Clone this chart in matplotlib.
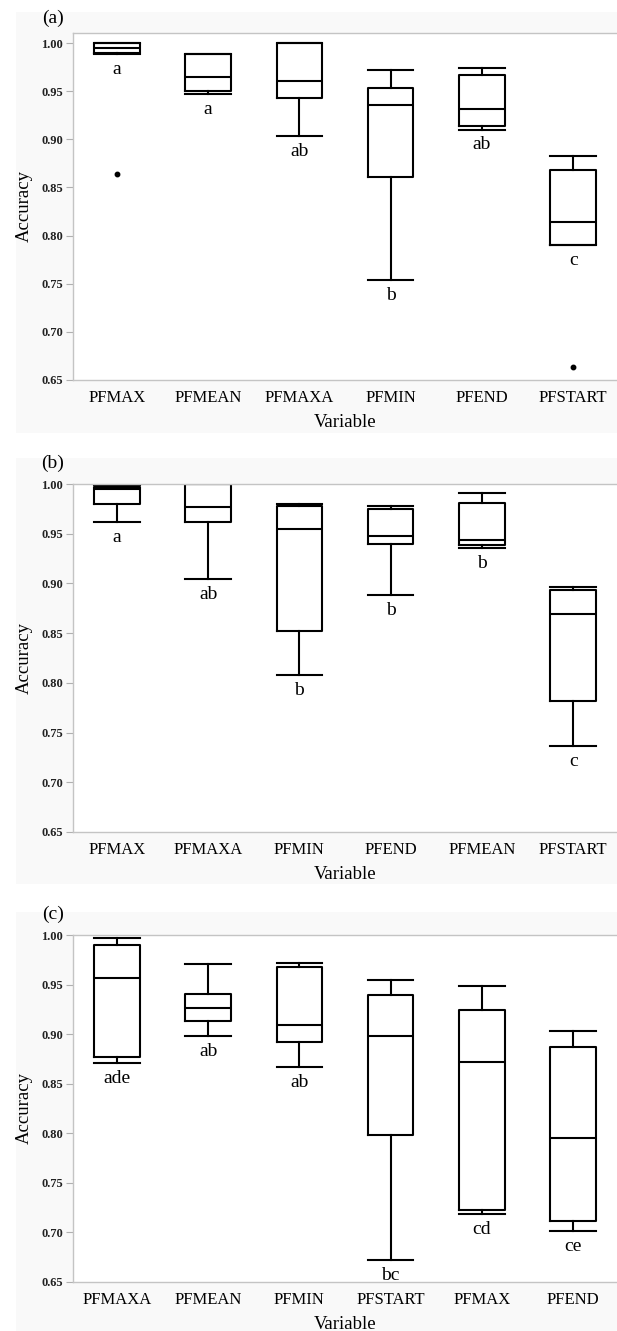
import matplotlib
matplotlib.use("Agg")
import matplotlib.pyplot as plt
from matplotlib.patches import Rectangle

plt.rcParams['font.family'] = ['Liberation Serif', 'DejaVu Serif']

# panel (a)
a_labels = ['PFMAX', 'PFMEAN', 'PFMAXA', 'PFMIN', 'PFEND', 'PFSTART']
a_whishi = [1.000, 0.9886, 1.000, 0.9719, 0.974, 0.8822]
a_q3 = [0.9995, 0.9886, 1.000, 0.9532, 0.967, 0.8676]
a_med = [0.9950, 0.9647, 0.9608, 0.9359, 0.9317, 0.8143]
a_q1 = [0.9895, 0.9498, 0.9428, 0.8604, 0.9134, 0.7904]
a_whislo = [0.9888, 0.947, 0.9037, 0.7536, 0.910, 0.7904]
a_fliers = [[0.864], [], [], [], [], [0.663]]
a_letters = ['a', 'a', 'ab', 'b', 'ab', 'c']

# panel (b)
b_labels = ['PFMAX', 'PFMAXA', 'PFMIN', 'PFEND', 'PFMEAN', 'PFSTART']
b_whishi = [0.999, 1.000, 0.980, 0.9776, 0.9906, 0.8965]
b_q3 = [0.9973, 1.000, 0.978, 0.9745, 0.9806, 0.8935]
b_med = [0.995, 0.9772, 0.9545, 0.9478, 0.9437, 0.8697]
b_q1 = [0.9802, 0.9622, 0.8523, 0.940, 0.9387, 0.7813]
b_whislo = [0.9615, 0.9046, 0.8074, 0.8885, 0.9354, 0.7361]
b_fliers = [[], [], [], [], [], []]
b_letters = ['a', 'ab', 'b', 'b', 'b', 'c']

# panel (c)
c_labels = ['PFMAXA', 'PFMEAN', 'PFMIN', 'PFSTART', 'PFMAX', 'PFEND']
c_whishi = [0.9973, 0.9704, 0.9717, 0.9546, 0.9489, 0.9027]
c_q3 = [0.9896, 0.9408, 0.9677, 0.9394, 0.924, 0.8866]
c_med = [0.9562, 0.926, 0.9095, 0.8977, 0.8714, 0.7954]
c_q1 = [0.8765, 0.9128, 0.8923, 0.7987, 0.7227, 0.7119]
c_whislo = [0.8704, 0.898, 0.8667, 0.6722, 0.7186, 0.7015]
c_fliers = [[], [], [], [], [], []]
c_letters = ['ade', 'ab', 'ab', 'bc', 'cd', 'ce']

yticks = [0.65, 0.70, 0.75, 0.80, 0.85, 0.90, 0.95, 1.00]

W, H = 617, 1331
fig = plt.figure(figsize=(W / 100, H / 100), dpi=100)


def px_axes(left, top, right, bottom):
    return [left / W, 1 - bottom / H, (right - left) / W, (bottom - top) / H]


def draw_panel(rect, bg, tag, tag_y, labels, whishi, q3, med, q1, whislo, fliers, letters, ytop):
    # faint grey backing like the original export
    fig.patches.append(Rectangle((bg[0] / W, 1 - bg[3] / H), (bg[2] - bg[0]) / W, (bg[3] - bg[1]) / H,
                                 transform=fig.transFigure, facecolor='#f9f9f9', edgecolor='none', zorder=-10))
    ax = fig.add_axes(px_axes(*rect))
    stats = []
    for i in range(len(labels)):
        stats.append(dict(whishi=whishi[i], q3=q3[i], med=med[i], q1=q1[i],
                          whislo=whislo[i], fliers=fliers[i], label=labels[i]))
    lw = 1.5
    ax.bxp(stats, positions=range(len(labels)), widths=0.5, capwidths=0.5,
           showfliers=True,
           boxprops=dict(color='black', linewidth=lw),
           whiskerprops=dict(color='black', linewidth=lw),
           capprops=dict(color='black', linewidth=lw),
           medianprops=dict(color='black', linewidth=lw),
           flierprops=dict(marker='o', markerfacecolor='black', markeredgecolor='black', markersize=3.2))
    for i, let in enumerate(letters):
        ax.annotate(let, (i, whislo[i]), xytext=(0, -11), textcoords='offset points',
                    ha='center', va='center', fontsize=14)
    ax.set_xlim(-0.48, len(labels) - 0.52)
    ax.set_ylim(0.65, ytop)
    ax.set_yticks(yticks)
    ax.set_yticklabels([f'{t:.2f}' for t in yticks], fontsize=9, fontweight='bold', color='#222222')
    ax.set_xticks(range(len(labels)))
    ax.set_xticklabels(labels, fontsize=12)
    ax.tick_params(axis='x', length=0, pad=7)
    ax.tick_params(axis='y', length=5, width=0.8, color='#b0b0b0', pad=2)
    for s in ['left', 'bottom', 'top']:
        ax.spines[s].set_color('#c4c4c4')
        ax.spines[s].set_linewidth(1.0)
    ax.spines['right'].set_visible(False)
    ax.set_xlabel('Variable', fontsize=13.5, labelpad=6)
    ax.set_ylabel('Accuracy', fontsize=13.5, labelpad=6)
    fig.text(53 / W, 1 - tag_y / H, tag, fontsize=14, ha='center', va='center')
    return ax


draw_panel((73, 33, 617, 380), (16, 12, 617, 433), '(a)', 18,
           a_labels, a_whishi, a_q3, a_med, a_q1, a_whislo, a_fliers, a_letters, 1.0104)
draw_panel((73, 484, 617, 832), (16, 458, 617, 884), '(b)', 463,
           b_labels, b_whishi, b_q3, b_med, b_q1, b_whislo, b_fliers, b_letters, 1.0)
draw_panel((73, 935, 617, 1282), (16, 912, 617, 1331), '(c)', 914,
           c_labels, c_whishi, c_q3, c_med, c_q1, c_whislo, c_fliers, c_letters, 1.0)

fig.savefig('out.png', dpi=100)
